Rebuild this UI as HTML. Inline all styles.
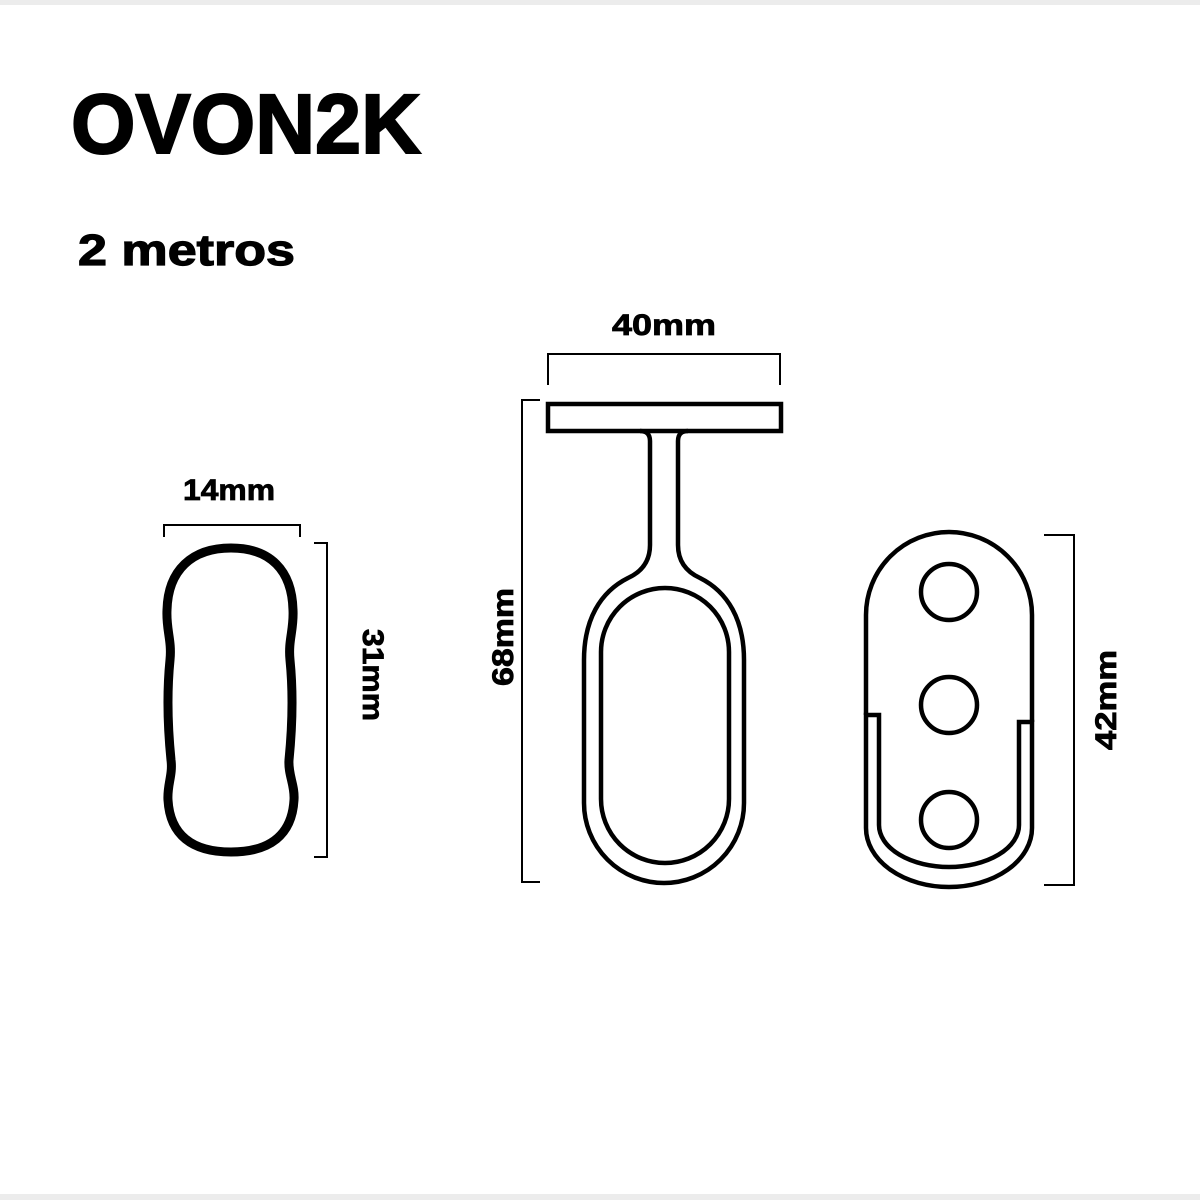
<!DOCTYPE html>
<html><head><meta charset="utf-8"><style>html,body{margin:0;padding:0;background:#fff}svg{display:block}</style></head>
<body>
<svg width="1200" height="1200" viewBox="0 0 1200 1200" xmlns="http://www.w3.org/2000/svg">
<rect x="0" y="0" width="1200" height="1200" fill="#fff"/>
<rect x="0" y="0" width="1200" height="5" fill="#ececec"/>
<rect x="0" y="1194" width="1200" height="6" fill="#ececec"/>
<g font-family="Liberation Sans, sans-serif" font-weight="bold" fill="#000" stroke="#000">
<text x="71" y="153" font-size="84" stroke-width="2" textLength="350" lengthAdjust="spacingAndGlyphs">OVON2K</text>
<text x="78" y="265" font-size="44" stroke-width="1.2" textLength="217" lengthAdjust="spacingAndGlyphs">2 metros</text>
<text x="229" y="500" font-size="30" stroke-width="0.8" text-anchor="middle" textLength="92" lengthAdjust="spacingAndGlyphs">14mm</text>
<text x="664" y="335" font-size="30" stroke-width="0.8" text-anchor="middle" textLength="104" lengthAdjust="spacingAndGlyphs">40mm</text>
<text transform="translate(363,675) rotate(90)" font-size="30" stroke-width="0.8" text-anchor="middle" textLength="92" lengthAdjust="spacingAndGlyphs">31mm</text>
<text transform="translate(513,637) rotate(-90)" font-size="30" stroke-width="0.8" text-anchor="middle" textLength="98" lengthAdjust="spacingAndGlyphs">68mm</text>
<text transform="translate(1116,700) rotate(-90)" font-size="30" stroke-width="0.8" text-anchor="middle" textLength="100" lengthAdjust="spacingAndGlyphs">42mm</text>
</g>
<g fill="none" stroke="#000" stroke-width="2">
<path d="M164,537 V525 H300 V537"/>
<path d="M314,543 H327 V857 H314"/>
<path d="M548,385 V354 H780 V385"/>
<path d="M540,400 H522 V882 H540"/>
<path d="M1044,535 H1074 V885 H1044"/>
</g>
<path fill="none" stroke="#000" stroke-width="9" d="M231,548 C270,548 292,570 293,610 C294,630 288,640 290,660 C293,690 293,720 289,760 C288,775 295,785 294,800 C292,835 270,852 231,852 C192,852 170,835 168,800 C167,785 173,775 171,760 C167,720 167,690 170,660 C172,640 166,630 167,610 C168,570 192,548 231,548 Z"/>
<g fill="none" stroke="#000" stroke-width="4.5">
<rect x="548" y="404" width="233" height="27"/>
<path d="M640,431 Q650,431 650,441 L650,545 Q650,568 628,578 C600,592 584,620 584,660 L584,803 A80,80 0 0 0 744,803 L744,660 C744,620 728,592 700,578 Q678,568 678,545 L678,441 Q678,431 688,431"/>
<path d="M601,652 A64,64 0 0 1 729,652 L729,799 A64,64 0 0 1 601,799 Z"/>
<path d="M866,715 L866,615 A83,83 0 0 1 1032,615 L1032,722"/>
<path d="M866,715 H879 V825 A70,42 0 0 0 1019,825 V722 H1032 V828 A83,59 0 0 1 866,828 Z"/>
<circle cx="949" cy="592" r="28"/>
<circle cx="949" cy="705" r="28"/>
<circle cx="949" cy="820" r="28"/>
</g>
</svg>
</body></html>
